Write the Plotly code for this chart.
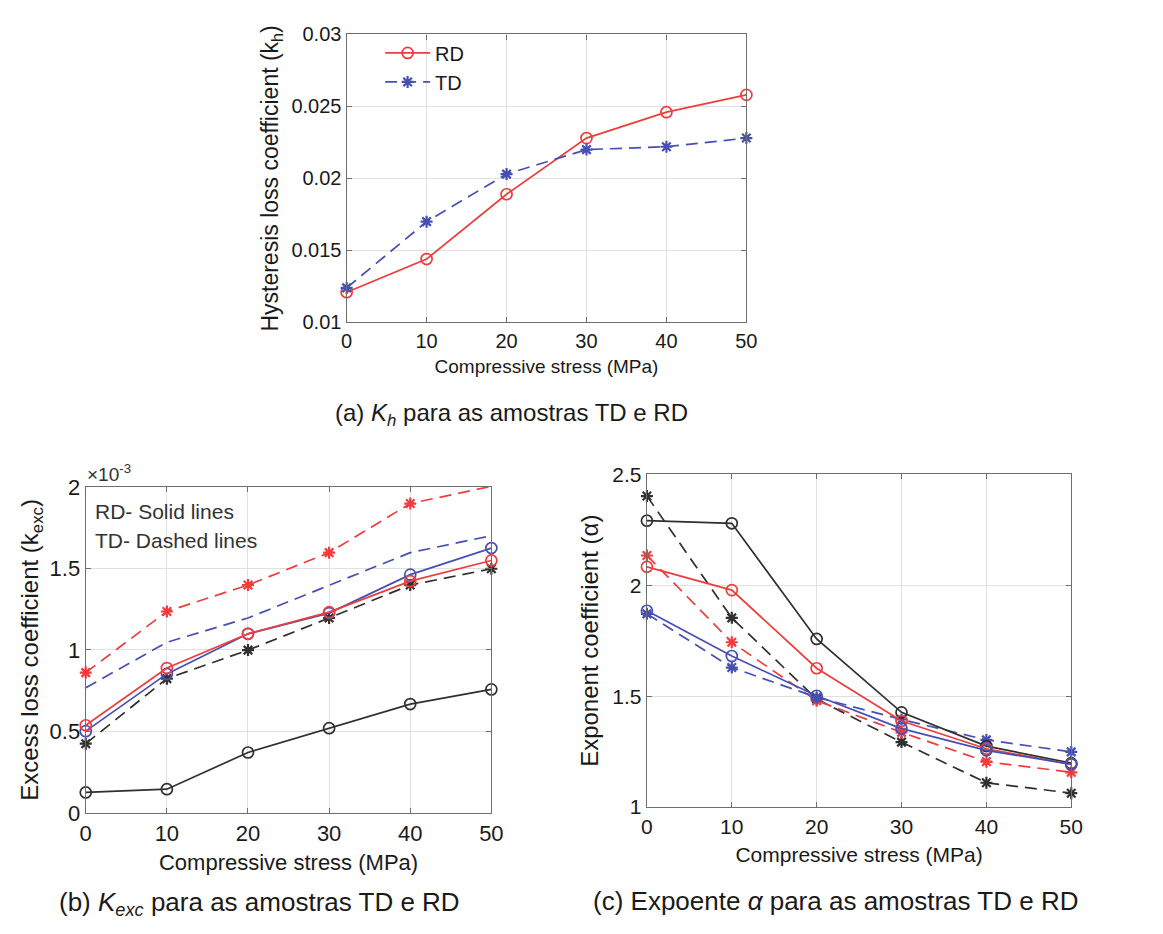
import plotly.graph_objects as go

# ---------------- data ----------------
stress = [0, 10, 20, 30, 40, 50]

# (a) hysteresis loss coefficient k_h
kh_RD = [0.0121, 0.0144, 0.0189, 0.0228, 0.0246, 0.0258]
kh_TD = [0.0124, 0.0170, 0.0203, 0.0220, 0.0222, 0.0228]

# (b) excess loss coefficient (x 1e-3)
kexc_red_RD = [0.538, 0.889, 1.099, 1.232, 1.422, 1.549]
kexc_blue_RD = [0.502, 0.853, 1.099, 1.226, 1.462, 1.625]
kexc_black_RD = [0.126, 0.146, 0.371, 0.520, 0.668, 0.758]
kexc_red_TD = [0.861, 1.236, 1.398, 1.597, 1.898, 2.004]
kexc_blue_TD = [0.768, 1.047, 1.196, 1.398, 1.597, 1.701]
kexc_black_TD = [0.425, 0.824, 0.999, 1.196, 1.398, 1.498]

# (c) exponent coefficient alpha
alpha_black_RD = [2.291, 2.279, 1.758, 1.427, 1.275, 1.198]
alpha_red_RD = [2.083, 1.978, 1.626, 1.388, 1.263, 1.193]
alpha_blue_RD = [1.885, 1.681, 1.502, 1.354, 1.256, 1.193]
alpha_black_TD = [2.402, 1.853, 1.487, 1.293, 1.110, 1.063]
alpha_red_TD = [2.134, 1.743, 1.480, 1.337, 1.205, 1.157]
alpha_blue_TD = [1.871, 1.629, 1.495, 1.395, 1.303, 1.249]

x_ticks = [0, 10, 20, 30, 40, 50]
ya_ticks = [0.01, 0.015, 0.02, 0.025, 0.03]
yb_ticks = [0, 0.5, 1, 1.5, 2]
yc_ticks = [1, 1.5, 2, 2.5]

# ---------------- style ----------------
RED = "#f03c3c"
BLUE = "#4650b4"
BLACK = "#303030"
FONT = "Liberation Sans, Arial, sans-serif"
TXT = "#1a1a1a"
DASH = "12px,7px"
LW = 1.7

fig = go.Figure()


def add(x, y, color, solid, xa, ya, name=None, legend=False, markers=True):
    if solid:
        marker = dict(symbol="circle-open", size=11, color=color, line=dict(width=1.7, color=color))
    else:
        marker = dict(symbol="asterisk-open", size=10, color=color, line=dict(width=2.2, color=color))
    fig.add_trace(go.Scatter(
        x=x, y=y, mode="lines+markers" if markers else "lines",
        line=dict(color=color, width=LW, dash="solid" if solid else DASH),
        marker=marker, name=name, showlegend=legend, xaxis=xa, yaxis=ya,
        cliponaxis=False,
    ))


# panel a
add(stress, kh_RD, RED, True, "x", "y", "RD", True)
add(stress, kh_TD, BLUE, False, "x", "y", "TD", True)

# panel b
add(stress, kexc_red_TD, RED, False, "x2", "y2")
add(stress, kexc_blue_TD, BLUE, False, "x2", "y2", markers=False)
add(stress, kexc_black_TD, BLACK, False, "x2", "y2")
add(stress, kexc_black_RD, BLACK, True, "x2", "y2")
add(stress, kexc_blue_RD, BLUE, True, "x2", "y2")
add(stress, kexc_red_RD, RED, True, "x2", "y2")

# panel c
add(stress, alpha_black_TD, BLACK, False, "x3", "y3")
add(stress, alpha_red_TD, RED, False, "x3", "y3")
add(stress, alpha_blue_TD, BLUE, False, "x3", "y3")
add(stress, alpha_black_RD, BLACK, True, "x3", "y3")
add(stress, alpha_red_RD, RED, True, "x3", "y3")
add(stress, alpha_blue_RD, BLUE, True, "x3", "y3")

W, H = 1163, 934


def ax(domain, rng, ticks, title, anchor, tsize, ttsize, standoff):
    return dict(
        domain=domain, range=rng, tickvals=ticks, anchor=anchor,
        showgrid=True, gridcolor="#e0e0e0", gridwidth=1,
        zeroline=False, showline=True, linecolor="#6e6e6e", linewidth=1.4,
        mirror="allticks", ticks="inside", ticklen=5, tickcolor="#6e6e6e",
        tickfont=dict(family=FONT, size=tsize, color=TXT),
        title=dict(text=title, font=dict(family=FONT, size=ttsize, color=TXT), standoff=standoff),
    )


xt = "Compressive stress (MPa)"
fig.update_layout(
    width=W, height=H,
    margin=dict(l=0, r=0, t=0, b=0),
    paper_bgcolor="white", plot_bgcolor="white",
    xaxis=ax([346 / W, 752 / W], [0, 50], x_ticks, xt, "y", 20, 19, 9),
    yaxis=ax([1 - 319 / H, 1 - 23 / H], [0.01, 0.03], ya_ticks,
             "Hysteresis loss coefficient (k<sub>h</sub>)", "x", 20, 23, 6),
    xaxis2=ax([81 / W, 493 / W], [0, 50], x_ticks, xt, "y2", 22, 22, 10),
    yaxis2=ax([1 - 823 / H, 1 - 488 / H], [0, 2], yb_ticks,
              "Excess loss coefficient (k<sub>exc</sub>)", "x2", 22, 24, 4),
    xaxis3=ax([651 / W, 1082 / W], [0, 50], x_ticks, xt, "y3", 21, 21, 10),
    yaxis3=ax([1 - 817 / H, 1 - 475 / H], [1, 2.5], yc_ticks,
              "Exponent coefficient (α)", "x3", 21, 24, 6),
    legend=dict(x=380 / W, y=1 - 22 / H, xanchor="left", yanchor="top",
                bgcolor="rgba(0,0,0,0)", borderwidth=0,
                font=dict(family=FONT, size=20, color=TXT), tracegroupgap=0,
                itemwidth=45),
    showlegend=True,
)

ann_font = dict(family=FONT, size=21, color="#333333")
fig.add_annotation(x=88 / W, y=1 - 513 / H, xref="paper", yref="paper", xanchor="left",
                   yanchor="middle", text="RD- Solid lines", showarrow=False, font=ann_font)
fig.add_annotation(x=88 / W, y=1 - 543 / H, xref="paper", yref="paper", xanchor="left",
                   yanchor="middle", text="TD- Dashed lines", showarrow=False, font=ann_font)
fig.add_annotation(x=80 / W, y=1 - 474 / H, xref="paper", yref="paper", xanchor="left",
                   yanchor="middle", text="×10<sup>-3</sup>", showarrow=False,
                   font=dict(family=FONT, size=19, color="#333333"))

fig.add_annotation(x=513 / W, y=1 - 414 / H, xref="paper", yref="paper", xanchor="center",
                   yanchor="middle", text="(a) <i>K<sub>h</sub></i> para as amostras TD e RD",
                   showarrow=False, font=dict(family=FONT, size=24, color=TXT))
fig.add_annotation(x=257 / W, y=1 - 916 / H, xref="paper", yref="paper", xanchor="center",
                   yanchor="middle", text="(b) <i>K<sub>exc</sub></i> para as amostras TD e RD",
                   showarrow=False, font=dict(family=FONT, size=26, color=TXT))
fig.add_annotation(x=843 / W, y=1 - 913 / H, xref="paper", yref="paper", xanchor="center",
                   yanchor="middle", text="(c) Expoente <i>α</i> para as amostras TD e RD",
                   showarrow=False, font=dict(family=FONT, size=26, color=TXT))

fig.write_html("out.html")
